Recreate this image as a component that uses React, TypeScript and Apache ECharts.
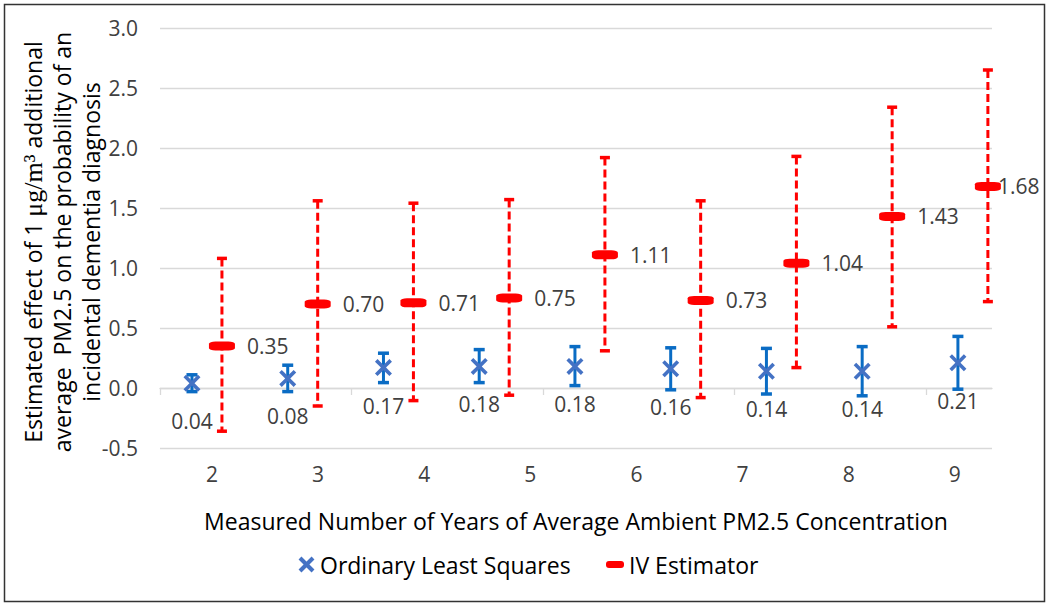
import React, { useEffect, useRef } from "react";
import * as echarts from "echarts";

// ---- data ----
const yearTicks = [2, 3, 4, 5, 6, 7, 8, 9];
const olsEstimates = [0.04, 0.08, 0.17, 0.18, 0.18, 0.16, 0.14, 0.14, 0.21];
const olsLower = [-0.03, -0.03, 0.045, 0.045, 0.02, -0.015, -0.05, -0.065, -0.01];
const olsUpper = [0.11, 0.19, 0.29, 0.32, 0.345, 0.335, 0.33, 0.345, 0.43];
const ivEstimates = [0.35, 0.7, 0.71, 0.75, 1.11, 0.73, 1.04, 1.43, 1.68];
const ivLower = [-0.36, -0.15, -0.105, -0.06, 0.31, -0.08, 0.17, 0.51, 0.72];
const ivUpper = [1.08, 1.56, 1.54, 1.57, 1.92, 1.56, 1.93, 2.34, 2.65];
const yTicks = { min: -0.5, max: 3.0, step: 0.5 };

// ---- style constants ----
const FONT = "'Open Sans', 'Noto Sans', sans-serif";
const OLS_SHIFT = 0.334;
const IV_SHIFT = 0.647;
const BLUE_MARK = "#4472C4";
const BLUE_BAR = "#0A6CC4";
const RED = "#FF0000";
const X_PATH =
  "path://M0,3 L3,0 L10,7 L17,0 L20,3 L13,10 L20,17 L17,20 L10,13 L3,20 L0,17 L7,10 Z";

function errorBars(stroke: string, lineWidth: number, cap: number, dash: number[] | null) {
  return (params: any, api: any) => {
    const x = api.value(0);
    const top = api.coord([x, api.value(2)]);
    const bot = api.coord([x, api.value(1)]);
    const hw = cap / 2;
    return {
      type: "group",
      children: [
        {
          type: "line",
          shape: { x1: top[0], y1: top[1], x2: bot[0], y2: bot[1] },
          style: { stroke, lineWidth, lineDash: dash || undefined },
        },
        {
          type: "line",
          shape: { x1: top[0] - hw, y1: top[1], x2: top[0] + hw, y2: top[1] },
          style: { stroke, lineWidth: lineWidth + 0.5 },
        },
        {
          type: "line",
          shape: { x1: bot[0] - hw, y1: bot[1], x2: bot[0] + hw, y2: bot[1] },
          style: { stroke, lineWidth: lineWidth + 0.5 },
        },
      ],
    };
  };
}

export default function App() {
  const ref = useRef<HTMLDivElement>(null);
  useEffect(() => {
    if (!ref.current) return;
    const chart = echarts.init(ref.current, null, { renderer: "svg" });

    const olsPts = olsEstimates.map((v, i) => [i + OLS_SHIFT, v]);
    const olsBars = olsEstimates.map((_, i) => [i + OLS_SHIFT, olsLower[i], olsUpper[i]]);
    const ivPts = ivEstimates.map((v, i) =>
      i === ivEstimates.length - 1
        ? { value: [i + IV_SHIFT, v], label: { distance: -3 } }
        : [i + IV_SHIFT, v]
    );
    const ivBars = ivEstimates.map((_, i) => [i + IV_SHIFT, ivLower[i], ivUpper[i]]);

    chart.setOption({
      animation: false,
      grid: { left: 160, right: 58, top: 28, bottom: 159 },
      xAxis: [
        {
          type: "value",
          min: 0,
          max: 8.69,
          axisLine: { show: true, onZero: true, lineStyle: { color: "#d9d9d9", width: 1.3 } },
          axisTick: {
            show: true,
            customValues: [0, 2, 4, 6, 8],
            length: 7,
            lineStyle: { color: "#d9d9d9", width: 1.3 },
          },
          axisLabel: { show: false },
          splitLine: { show: false },
        },
        {
          type: "value",
          min: 1.51,
          max: 9.35,
          position: "bottom",
          axisLine: { show: false, onZero: false },
          axisTick: { show: false },
          splitLine: { show: false },
          axisLabel: {
            customValues: yearTicks,
            formatter: (v: number) => String(v),
            fontFamily: FONT,
            fontSize: 21,
            color: "#404040",
            margin: 15,
          },
        },
      ],
      yAxis: {
        type: "value",
        min: yTicks.min,
        max: yTicks.max,
        interval: yTicks.step,
        axisLine: { show: false },
        axisTick: { show: false },
        splitLine: { lineStyle: { color: "#d9d9d9", width: 1.3 } },
        axisLabel: {
          formatter: (v: number) => v.toFixed(1),
          fontFamily: FONT,
          fontSize: 21,
          color: "#404040",
          margin: 22,
        },
      },
      series: [
        {
          type: "custom",
          name: "IV bars",
          xAxisIndex: 0,
          renderItem: errorBars(RED, 3, 10, [8, 4]),
          encode: { x: 0, y: [1, 2] },
          data: ivBars,
          z: 2,
        },
        {
          type: "custom",
          name: "OLS bars",
          xAxisIndex: 0,
          renderItem: errorBars(BLUE_BAR, 3, 11, null),
          encode: { x: 0, y: [1, 2] },
          data: olsBars,
          z: 2,
        },
        {
          type: "scatter",
          name: "Ordinary Least Squares",
          xAxisIndex: 0,
          symbol: X_PATH,
          symbolSize: 17,
          itemStyle: { color: BLUE_MARK, opacity: 1 },
          z: 4,
          label: {
            show: true,
            position: "bottom",
            distance: 19,
            fontFamily: FONT,
            fontSize: 21,
            color: "#404040",
            formatter: (p: any) => p.value[1].toFixed(2),
          },
          data: olsPts,
        },
        {
          type: "scatter",
          name: "IV Estimator",
          xAxisIndex: 0,
          symbol: "roundRect",
          symbolSize: [26, 9],
          itemStyle: { color: RED, opacity: 1 },
          z: 4,
          label: {
            show: true,
            position: "right",
            distance: 12,
            fontFamily: FONT,
            fontSize: 21,
            color: "#404040",
            formatter: (p: any) => p.value[1].toFixed(2),
          },
          data: ivPts,
        },
      ],
      graphic: [
        {
          type: "rect",
          shape: { x: 4.5, y: 4.5, width: 1040, height: 597 },
          style: { fill: "none", stroke: "#333", lineWidth: 1.5 },
          silent: true,
        },
        {
          type: "text",
          x: 62,
          y: 242,
          rotation: Math.PI / 2,
          style: {
            text:
              "Estimated effect of 1 {s|μg/m³} additional\naverage  PM2.5 on the probability of an\nincidental dementia diagnosis",
            fontFamily: FONT,
            fontSize: 23,
            lineHeight: 29,
            fill: "#000",
            align: "center",
            verticalAlign: "middle",
            rich: {
              s: { fontFamily: "'Liberation Serif', 'DejaVu Serif', serif", fontSize: 26, fill: "#000", lineHeight: 29 },
            },
          },
        },
        {
          type: "text",
          x: 576,
          y: 521,
          style: {
            text: "Measured Number of Years of Average Ambient PM2.5 Concentration",
            fontFamily: FONT,
            fontSize: 23,
            fill: "#000",
            align: "center",
            verticalAlign: "middle",
          },
        },
        {
          type: "line",
          shape: { x1: 300, y1: 558, x2: 313, y2: 571 },
          style: { stroke: BLUE_MARK, lineWidth: 4 },
        },
        {
          type: "line",
          shape: { x1: 313, y1: 558, x2: 300, y2: 571 },
          style: { stroke: BLUE_MARK, lineWidth: 4 },
        },
        {
          type: "text",
          x: 320,
          y: 565,
          style: {
            text: "Ordinary Least Squares",
            fontFamily: FONT,
            fontSize: 23,
            fill: "#000",
            align: "left",
            verticalAlign: "middle",
          },
        },
        {
          type: "rect",
          shape: { x: 606, y: 561, width: 18, height: 7, r: 3 },
          style: { fill: RED },
        },
        {
          type: "text",
          x: 629,
          y: 565,
          style: {
            text: "IV Estimator",
            fontFamily: FONT,
            fontSize: 23,
            fill: "#000",
            align: "left",
            verticalAlign: "middle",
          },
        },
      ],
    });
    return () => chart.dispose();
  }, []);
  return (
    <div
      ref={ref}
      style={{ position: "fixed", left: 0, top: 0, width: 1050, height: 607, background: "#fff" }}
    />
  );
}
